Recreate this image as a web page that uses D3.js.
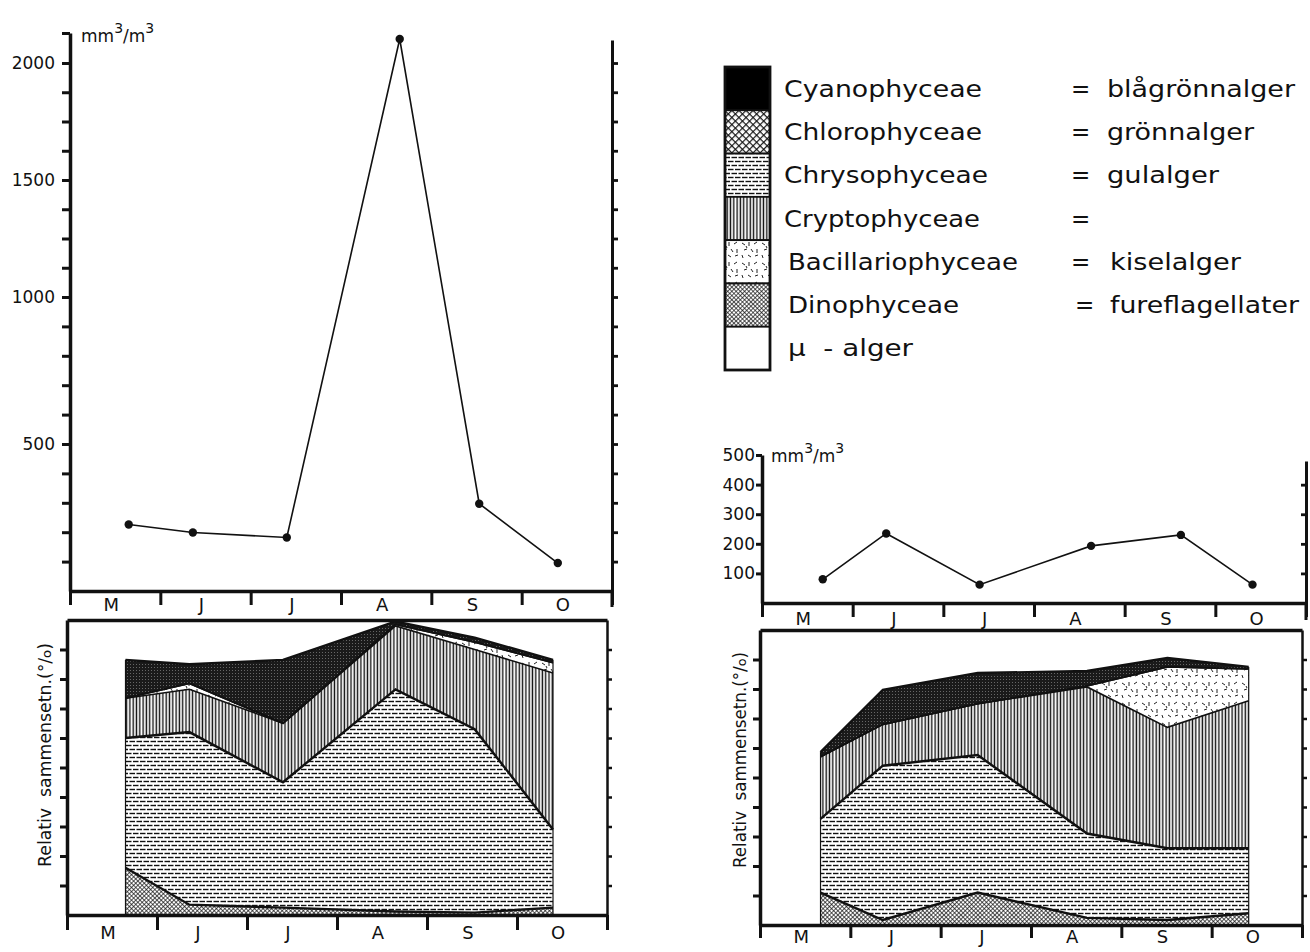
<!DOCTYPE html>
<html><head><meta charset="utf-8">
<script src="https://cdn.jsdelivr.net/npm/d3@7"></script>
<style>
body{margin:0;background:#fff}
text{font-family:"DejaVu Sans",sans-serif;fill:#111}
.ax path,.ax line{stroke:#111}
</style>
</head><body><svg id="c" width="1310" height="952"></svg>
<script>
// ---------------- data ----------------
const months = ["M","J","J","A","S","O"];
// sampling dates, in months after 1 May
const leftDates = [0.65, 1.36, 2.40, 3.65, 4.53, 5.40];
const leftVolume = [226, 199, 182, 2100, 297, 95];          // mm3/m3
const rightLineDates = [0.67, 1.37, 2.40, 3.63, 4.62, 5.41];
const rightVolume = [80, 235, 62, 193, 230, 62];             // mm3/m3
const rightCompDates = [0.67, 1.36, 2.41, 3.62, 4.51, 5.41];

// relative composition (%), left lake
const leftDino   = [16, 3.5, 2.5, 1.2, 0.8, 2.5];
const leftChryso = [44, 58.5, 42.5, 75.3, 62.2, 26.5];
const leftCrypto = [13.5, 14.5, 20, 21.5, 27, 53];
const leftBac    = [0, 2, 0, 0.5, 2.5, 3.5];
const leftChloro = [0, 0, 0, 0, 0, 0];
const leftCyano  = [13, 6.5, 21.5, 1, 1.5, 1];
// relative composition (%), right lake
const rightDino   = [11, 1.7, 11, 2.4, 1.7, 4];
const rightChryso = [25, 52.3, 46.6, 28.6, 24.3, 22];
const rightCrypto = [21, 14, 17.4, 49.7, 41, 50];
const rightBac    = [0, 0, 0, 0.3, 20.5, 10.8];
const rightChloro = [0, 0, 0, 0, 0, 0];
const rightCyano  = [1.6, 11.7, 10.4, 5.1, 3, 0.7];

const stackKeys = ["dino","chryso","crypto","bac","chloro","cyano"];
const leftMajorTicks = [500, 1000, 1500, 2000];
const rightMajorTicks = [100, 200, 300, 400, 500];
const legendKeys = ["cyano","chloro","chryso","crypto","bac","dino","mu"];
const legendLatin = ["Cyanophyceae","Chlorophyceae","Chrysophyceae","Cryptophyceae","Bacillariophyceae","Dinophyceae","\u00b5  - alger"];
const legendSwedish = ["blågrönnalger","grönnalger","gulalger","","kiselalger","fureflagellater",null];

// ---------------- patterns ----------------
const svg = d3.select("#c");
const defs = svg.append("defs");
function pat(id, w, h, bg, rot){
  const p = defs.append("pattern").attr("id", id).attr("patternUnits","userSpaceOnUse")
    .attr("width", w).attr("height", h);
  if (rot) p.attr("patternTransform", "rotate(" + rot + ")");
  p.append("rect").attr("width", w).attr("height", h).attr("fill", bg);
  return p;
}
function seg(p, x1, y1, x2, y2, sw, col){
  p.append("line").attr("x1",x1).attr("y1",y1).attr("x2",x2).attr("y2",y2)
   .attr("stroke", col || "#111").attr("stroke-width", sw);
}
// cyano (dark stipple)
let p = pat("cyano", 3, 3, "#1a1a1a");
p.append("rect").attr("x",1).attr("y",1).attr("width",1).attr("height",1).attr("fill","#666");
pat("cyanoLeg", 4, 4, "#000");
// chlorophyceae coarse checker
p = pat("chloro", 5, 5, "#fff", 45);
seg(p,0,0,5,0,2.4); seg(p,0,0,0,5,2.4);
// dino fine checker
p = pat("dino", 3, 3, "#fff", 45);
seg(p,0,0,3,0,1.4); seg(p,0,0,0,3,1.4);
// chryso dashes
p = pat("chryso", 14, 8, "#fff");
seg(p,0,1.5,5.5,1.5,1.4); seg(p,7,1.5,12.5,1.5,1.4);
seg(p,-3.5,5.5,2,5.5,1.4); seg(p,3.5,5.5,9,5.5,1.4); seg(p,10.5,5.5,16,5.5,1.4);
// crypto vertical lines
p = pat("crypto", 3.3, 10, "#fff");
seg(p,1.2,0,1.2,10,1.4);
// bacillario random short dashes
p = pat("bac", 20, 20, "#fff");
[[2,3,5,5],[9,2,9,6],[14,4,17,2],[4,10,7,9],[11,9,13,12],[17,9,17,13],
 [2,15,3,18],[8,15,11,17],[15,16,18,15],[6,6,7,8]].forEach(s=>seg(p,s[0],s[1],s[2],s[3],1,"#222"));

// ---------------- helpers ----------------
function styleAxis(g, domW, tickW){
  g.classed("ax", true);
  g.select(".domain").attr("stroke-width", domW).attr("fill","none");
  g.selectAll(".tick line").attr("stroke-width", tickW);
  g.selectAll("text").attr("fill","#111");
}
function monthAxis(x, y0, tickLen, pad){
  const g1 = svg.append("g").attr("transform", `translate(0,${y0})`)
    .call(d3.axisBottom(x).tickValues(d3.range(0,7)).tickSize(tickLen).tickSizeOuter(0).tickFormat(""));
  styleAxis(g1, 3.5, 3);
  const g2 = svg.append("g").attr("transform", `translate(0,${y0})`)
    .call(d3.axisBottom(x).tickValues(d3.range(0.45,6,1)).tickSize(0).tickPadding(pad)
      .tickFormat((d,i)=>months[i]));
  g2.select(".domain").remove();
  g2.selectAll("text").attr("font-size",18).attr("fill","#111");
}
function unitLabel(x, y){
  const t = svg.append("text").attr("x", x).attr("y", y).attr("font-size", 17);
  t.append("tspan").text("mm");
  t.append("tspan").attr("dy",-9).attr("font-size",14).text("3");
  t.append("tspan").attr("dy",9).text("/m");
  t.append("tspan").attr("dy",-9).attr("font-size",14).text("3");
}
function lineChart(x, y, dates, vals){
  const pts = dates.map((d,i)=>[x(d), y(vals[i])]);
  svg.append("path").attr("d", d3.line()(pts)).attr("fill","none")
    .attr("stroke","#111").attr("stroke-width",1.6);
  svg.selectAll(null).data(pts).join("circle").attr("cx",d=>d[0]).attr("cy",d=>d[1])
    .attr("r",4.2).attr("fill","#111");
}
function stackChart(x, y, dates, arrs){
  const rows = dates.map((d,i)=>{
    const r = {date:d};
    stackKeys.forEach((k,j)=>r[k]=arrs[j][i]);
    return r;
  });
  const series = d3.stack().keys(stackKeys)(rows);
  const area = d3.area().x(d=>x(d.data.date)).y0(d=>y(d[0])).y1(d=>y(d[1]));
  const g = svg.append("g");
  g.selectAll("path.a").data(series).join("path").attr("class","a")
    .attr("d", area).attr("fill", s=>`url(#${s.key})`);
  const top = d3.line().x(d=>x(d.data.date)).y(d=>y(d[1]));
  g.selectAll("path.l").data(series).join("path").attr("class","l")
    .attr("d", top).attr("fill","none").attr("stroke","#111")
    .attr("stroke-width", s=> (s.key==="dino"||s.key==="chryso"||s.key==="cyano") ? 2.4 : 1.6);
  const last = series[series.length-1];
  [0, rows.length-1].forEach(i=>{
    g.append("line").attr("x1",x(dates[i])).attr("x2",x(dates[i]))
      .attr("y1",y(0)).attr("y2",y(last[i][1])).attr("stroke","#111").attr("stroke-width",1.2);
  });
}
function relLabel(bx, by, len){
  const t = svg.append("text").attr("transform",`translate(${bx},${by}) rotate(-90)`)
    .attr("font-size",17).style("white-space","pre")
    .attr("textLength", len).attr("lengthAdjust","spacingAndGlyphs");
  t.append("tspan").text("Relativ  sammensetn.(°/");
  t.append("tspan").attr("font-size",13).text("o");
  t.append("tspan").text(")");
}
function compFrame(x, y){
  styleAxis(svg.append("g").attr("transform",`translate(0,${y(100)})`)
    .call(d3.axisTop(x).tickValues([]).tickSizeOuter(0)), 3.5, 0);
  const gl = svg.append("g").attr("transform",`translate(${x(0)},0)`)
    .call(d3.axisLeft(y).tickValues(d3.range(10,100,10)).tickSize(7).tickSizeOuter(0).tickFormat(""));
  styleAxis(gl, 3.5, 3);
  const gr = svg.append("g").attr("transform",`translate(${x(6)},0)`)
    .call(d3.axisRight(y).tickValues(d3.range(10,100,10)).tickSize(5).tickSizeOuter(0).tickFormat(""));
  styleAxis(gr, 2.5, 2.5);
}

// ---------------- top-left: volume ----------------
const xTL = d3.scaleLinear().domain([0,6]).range([70,612]);
const yTL = d3.scaleLinear().domain([0,1000,2000,2125]).range([591,297,63,33]);
const tlTicks = d3.range(100,1001,100).concat(d3.range(1125,2126,125));
const gTLl = svg.append("g").attr("transform","translate(70,0)")
  .call(d3.axisLeft(yTL).tickValues(tlTicks).tickSize(8).tickSizeOuter(0).tickPadding(7)
    .tickFormat(d=>leftMajorTicks.includes(d) ? d : ""));
styleAxis(gTLl, 3.5, 3);
gTLl.selectAll("text").attr("font-size",17);
const yTLr = yTL.copy().domain([0,1000,2000,2095]).range([591,297,63,40]);
const gTLr = svg.append("g").attr("transform","translate(612,0)")
  .call(d3.axisRight(yTLr).tickValues(tlTicks.filter(d=>d<2095)).tickSize(6).tickSizeOuter(0).tickFormat(""));
styleAxis(gTLr, 3, 2.8);
svg.append("line").attr("x1",612).attr("x2",612).attr("y1",yTL(0)).attr("y2",yTL(0)+16)
  .attr("stroke","#111").attr("stroke-width",3);
monthAxis(xTL, yTL(0), 14, 7);
unitLabel(81, 42);
lineChart(xTL, yTL, leftDates, leftVolume);

// ---------------- bottom-left: composition ----------------
const xBL = d3.scaleLinear().domain([0,6]).range([67,607]);
const yBL = d3.scaleLinear().domain([0,100]).range([915,620]);
stackChart(xBL, yBL, leftDates, [leftDino,leftChryso,leftCrypto,leftBac,leftChloro,leftCyano]);
compFrame(xBL, yBL);
monthAxis(xBL, yBL(0), 15, 11);
relLabel(51, 867, 224);

// ---------------- top-right: volume ----------------
const xTR = d3.scaleLinear().domain([0,6]).range([762,1306]);
const yTR = d3.scaleLinear().domain([0,500]).range([603,455]);
const gTRl = svg.append("g").attr("transform","translate(762,0)")
  .call(d3.axisLeft(yTR).tickValues(rightMajorTicks).tickSize(6).tickSizeOuter(0).tickPadding(1));
styleAxis(gTRl, 3.5, 3);
gTRl.selectAll("text").attr("font-size",17);
const yTRr = yTR.copy().range([603,461]).domain([0,480]);
const gTRr = svg.append("g").attr("transform","translate(1306,0)")
  .call(d3.axisLeft(yTRr).tickValues([100,200,300,400]).tickSize(5).tickSizeOuter(0).tickFormat(""));
styleAxis(gTRr, 3, 2.8);
svg.append("line").attr("x1",1306).attr("x2",1306).attr("y1",yTR(0)).attr("y2",yTR(0)+17)
  .attr("stroke","#111").attr("stroke-width",3);
monthAxis(xTR, yTR(0), 14, 9);
unitLabel(771, 462);
lineChart(xTR, yTR, rightLineDates, rightVolume);

// ---------------- bottom-right: composition ----------------
const xBR = d3.scaleLinear().domain([0,6]).range([760,1302]);
const yBR = d3.scaleLinear().domain([0,100]).range([925,630]);
stackChart(xBR, yBR, rightCompDates, [rightDino,rightChryso,rightCrypto,rightBac,rightChloro,rightCyano]);
compFrame(xBR, yBR);
monthAxis(xBR, yBR(0), 13, 5);
relLabel(746, 868, 216);

// ---------------- legend ----------------
const legFill = {cyano:"url(#cyanoLeg)", chloro:"url(#chloro)", chryso:"url(#chryso)",
  crypto:"url(#crypto)", bac:"url(#bac)", dino:"url(#dino)", mu:"#fff"};
const latinW = [198,198,204,196,230,171,125];
const swedW = [188,147,112,0,131,189];
const ly = d3.scaleBand().domain(legendKeys).range([67,370]);
const lg = svg.append("g");
lg.selectAll("rect.s").data(legendKeys).join("rect").attr("class","s")
  .attr("x",725).attr("width",45).attr("y",d=>ly(d)).attr("height",ly.bandwidth())
  .attr("fill",d=>legFill[d]).attr("stroke","#111").attr("stroke-width",1.8);
lg.append("rect").attr("x",725).attr("y",67).attr("width",45).attr("height",303)
  .attr("fill","none").attr("stroke","#111").attr("stroke-width",2.8);
legendKeys.forEach((k,i)=>{
  const by = ly(k) + ly.bandwidth()/2 + 8;
  lg.append("text").attr("x", i===4||i===5||i===6 ? 788 : 784).attr("y", by)
    .attr("font-size",23).attr("textLength", latinW[i]).attr("lengthAdjust","spacingAndGlyphs")
    .style("white-space","pre").text(legendLatin[i]);
  if (legendSwedish[i] !== null){
    lg.append("text").attr("x", i===5 ? 1075 : 1071).attr("y", by).attr("font-size",23).text("=");
    if (legendSwedish[i])
      lg.append("text").attr("x", i>=4 ? 1110 : 1107).attr("y", by).attr("font-size",23)
        .attr("textLength", swedW[i]).attr("lengthAdjust","spacingAndGlyphs").text(legendSwedish[i]);
  }
});
</script>
</body></html>
